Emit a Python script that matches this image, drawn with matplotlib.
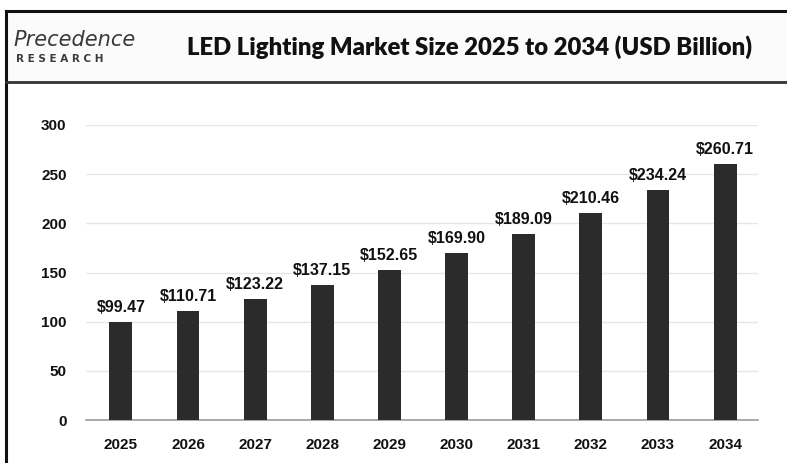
import matplotlib
matplotlib.use("Agg")
import matplotlib.pyplot as plt
from matplotlib.patches import Rectangle
from matplotlib.lines import Line2D

years = ["2025", "2026", "2027", "2028", "2029", "2030", "2031", "2032", "2033", "2034"]
values = [99.47, 110.71, 123.22, 137.15, 152.65, 169.90, 189.09, 210.46, 234.24, 260.71]
yticks = [0, 50, 100, 150, 200, 250, 300]
title = "LED Lighting Market Size 2025 to 2034 (USD Billion)"

W, H = 787, 463
fig = plt.figure(figsize=(W / 100, H / 100), dpi=100)
fig.patch.set_facecolor("white")

def fx(px):
    return px / W

def fy(py):
    return 1 - py / H

# outer frame
fig.add_artist(Line2D([fx(6), fx(6)], [fy(11), 0], color="#111111", lw=2.2))
fig.add_artist(Line2D([fx(6), 1], [fy(11), fy(11)], color="#111111", lw=2.2))
# header separator
fig.add_artist(Line2D([fx(6), 1], [fy(82), fy(82)], color="#333333", lw=2.0))
fig.add_artist(Rectangle((fx(7), fy(81)), 1, fy(12) - fy(81), color="#fbfbfb", zorder=-1))

# logo
fig.text(fx(13), fy(40), "Precedence", fontsize=15, family="DejaVu Sans",
         fontstyle="oblique", color="#3a3a3a", va="center", ha="left")
fig.text(fx(16), fy(59), "R E S E A R C H", fontsize=7.5, family="DejaVu Sans",
         fontweight="bold", color="#3a3a3a", va="center", ha="left")

# title
fig.text(fx(470), fy(47), title, fontsize=17.2, family="Lato", fontweight="heavy",
         color="#111111", va="center", ha="center")

# axes
ax = fig.add_axes([fx(86), fy(420), fx(758) - fx(86), fy(125) - fy(420)])
ax.set_ylim(0, 300)
ax.set_xlim(-0.52, 9.49)
x = list(range(len(years)))
ax.bar(x, values, width=0.34, color="#2b2b2b", zorder=3)
for xi, v in zip(x, values):
    ax.text(xi, v + 7, f"${v:.2f}", ha="center", va="bottom", fontsize=11.5,
            family="Liberation Sans", fontweight="bold", color="#111111")
ax.set_xticks(x)
ax.set_xticklabels(years)
ax.set_yticks(yticks)
ax.set_yticklabels([str(t) for t in yticks])
for lab in ax.get_xticklabels() + ax.get_yticklabels():
    lab.set_family("Liberation Sans")
    lab.set_fontweight("bold")
    lab.set_fontsize(11)
    lab.set_color("#111111")
ax.tick_params(axis="both", length=0)
ax.tick_params(axis="x", pad=13)
ax.tick_params(axis="y", pad=14)
ax.grid(axis="y", color="#e6e6e6", lw=1, zorder=0)
for s in ["top", "right", "left"]:
    ax.spines[s].set_visible(False)
ax.spines["bottom"].set_color("#9a9a9a")
ax.spines["bottom"].set_linewidth(1.2)
ax.set_facecolor("white")

fig.savefig("out.png", dpi=100)
